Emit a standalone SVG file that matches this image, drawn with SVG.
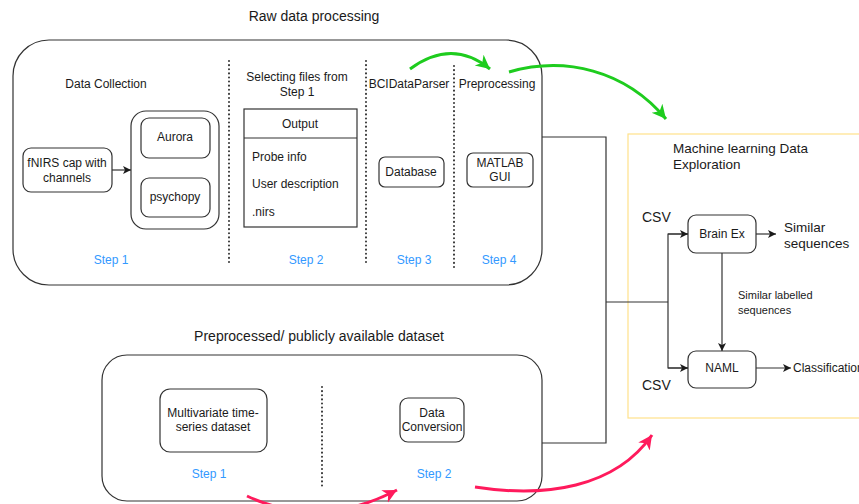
<svg xmlns="http://www.w3.org/2000/svg" width="859" height="504" viewBox="0 0 859 504">
<style>
text{font-family:"Liberation Sans",Arial,sans-serif;font-size:12px;fill:#1a1a1a}
.c{text-anchor:middle}
.step{fill:#3399FF;text-anchor:middle}
.title{font-size:14px;text-anchor:middle}
.box{fill:#fff;stroke:#333;stroke-width:1.2}
.dot{stroke:#333;stroke-width:2;stroke-dasharray:0.1 4;stroke-linecap:round;fill:none}
.ln{fill:none;stroke:#333;stroke-width:1.2}
.grn{fill:none;stroke:#1ECC1E;stroke-width:3}
.pnk{fill:none;stroke:#FF1A5C;stroke-width:3}
</style>
<defs>
<marker id="ah" markerUnits="userSpaceOnUse" markerWidth="10" markerHeight="10" refX="8" refY="4" orient="auto">
<path d="M0,0 L8,4 L0,8 L2,4 Z" fill="#1a1a1a"/>
</marker>
<marker id="ag" markerUnits="userSpaceOnUse" markerWidth="18" markerHeight="18" refX="14" refY="7" orient="auto">
<path d="M0,0 L14,7 L0,14 L4,7 Z" fill="#1ECC1E"/>
</marker>
<marker id="ap" markerUnits="userSpaceOnUse" markerWidth="18" markerHeight="18" refX="14" refY="7" orient="auto">
<path d="M0,0 L14,7 L0,14 L4,7 Z" fill="#FF1A5C"/>
</marker>
</defs>
<rect width="859" height="504" fill="#fff"/>

<g id="raw-data-processing">
<text class="title" x="314" y="21">Raw data processing</text>
<rect class="box" x="13" y="40" width="529" height="245" rx="36"/>
<line class="dot" x1="229" y1="61" x2="229" y2="265"/>
<line class="dot" x1="366" y1="61" x2="366" y2="265"/>
<line class="dot" x1="454" y1="66" x2="454" y2="270"/>
<text class="c" x="106" y="88">Data Collection</text>
<text class="c" x="297" y="81">Selecting files from</text>
<text class="c" x="297" y="96">Step 1</text>
<text class="c" x="409" y="88">BCIDataParser</text>
<text class="c" x="497" y="88">Preprocessing</text>
<text class="step" x="111" y="264">Step 1</text>
<text class="step" x="306" y="264">Step 2</text>
<text class="step" x="414" y="264">Step 3</text>
<text class="step" x="499" y="264">Step 4</text>
</g>

<g id="fnirs-cap">
<rect class="box" x="23" y="148" width="89" height="44" rx="8"/>
<text class="c" x="67" y="167">fNIRS cap with</text>
<text class="c" x="67" y="182">channels</text>
</g>
<g id="devices">
<rect class="box" x="131" y="111" width="88" height="118" rx="15"/>
</g>
<g id="aurora">
<rect class="box" x="141" y="118" width="69" height="40" rx="8"/>
<text class="c" x="175" y="141">Aurora</text>
</g>
<g id="psychopy">
<rect class="box" x="141" y="178" width="69" height="39" rx="8"/>
<text class="c" x="175" y="201">psychopy</text>
</g>
<g id="output">
<rect class="box" x="244" y="109" width="113" height="118"/>
<line class="ln" x1="244" y1="138" x2="357" y2="138"/>
<text class="c" x="300" y="128">Output</text>
<text x="252" y="161">Probe info</text>
<text x="252" y="188">User description</text>
<text x="252" y="216">.nirs</text>
</g>
<g id="database">
<rect class="box" x="379" y="157" width="65" height="30" rx="6"/>
<text class="c" x="411" y="176">Database</text>
</g>
<g id="matlab-gui">
<rect class="box" x="467" y="153" width="66" height="34" rx="6"/>
<text class="c" x="500" y="167">MATLAB</text>
<text class="c" x="500" y="181">GUI</text>
</g>

<g id="preprocessed-dataset">
<text class="title" x="319" y="341">Preprocessed/ publicly available dataset</text>
<rect class="box" x="102" y="355" width="440" height="146" rx="25"/>
<line class="dot" x1="322" y1="387" x2="322" y2="489"/>
<text class="step" x="209" y="478">Step 1</text>
<text class="step" x="434" y="478">Step 2</text>
</g>
<g id="multivariate">
<rect class="box" x="160" y="389" width="107" height="63" rx="10"/>
<text class="c" x="213" y="417">Multivariate time-</text>
<text class="c" x="213" y="431">series dataset</text>
</g>
<g id="data-conversion">
<rect class="box" x="400" y="398" width="64" height="44" rx="8"/>
<text class="c" x="432" y="417">Data</text>
<text class="c" x="432" y="431">Conversion</text>
</g>

<g id="ml-exploration">
<rect x="628" y="134" width="240" height="284" fill="#fff" stroke="#FFE28A" stroke-width="1.2"/>
<text x="673" y="153" style="font-size:13.5px">Machine learning Data</text>
<text x="673" y="169" style="font-size:13.5px">Exploration</text>
<text x="642" y="222" style="font-size:14px">CSV</text>
<text x="642" y="390" style="font-size:14px">CSV</text>
<text x="784" y="232" style="font-size:13.5px">Similar</text>
<text x="784" y="248" style="font-size:13.5px">sequences</text>
<text x="738" y="299" style="font-size:11px">Similar labelled</text>
<text x="738" y="314" style="font-size:11px">sequences</text>
<text x="793" y="372">Classification</text>
</g>
<g id="brain-ex">
<rect class="box" x="688" y="215" width="68" height="38" rx="8"/>
<text class="c" x="722" y="238">Brain Ex</text>
</g>
<g id="naml">
<rect class="box" x="688" y="351" width="68" height="37" rx="8"/>
<text class="c" x="722" y="372">NAML</text>
</g>

<g id="connectors">
<line class="ln" x1="112" y1="170" x2="131" y2="170" marker-end="url(#ah)"/>
<polyline class="ln" points="542,137 606,137 606,443 542,443"/>
<line class="ln" x1="606" y1="302" x2="668" y2="302"/>
<polyline class="ln" points="688,234 668,234 668,368 688,368"/>
<line class="ln" x1="668" y1="234" x2="688" y2="234" marker-end="url(#ah)"/>
<line class="ln" x1="668" y1="368" x2="688" y2="368" marker-end="url(#ah)"/>
<line class="ln" x1="756" y1="234" x2="776" y2="234" marker-end="url(#ah)"/>
<line class="ln" x1="722" y1="253" x2="722" y2="351" marker-end="url(#ah)"/>
<line class="ln" x1="756" y1="368" x2="791" y2="368" marker-end="url(#ah)"/>
<path class="grn" d="M410 69 Q452 38 490 69" marker-end="url(#ag)"/>
<path class="grn" d="M509 72 C565 56 625 70 666 119" marker-end="url(#ag)"/>
<path class="pnk" d="M247 496 Q320 530 397 490" marker-end="url(#ap)"/>
<path class="pnk" d="M475 487 C545 498 615 488 652 435" marker-end="url(#ap)"/>
</g>
</svg>
